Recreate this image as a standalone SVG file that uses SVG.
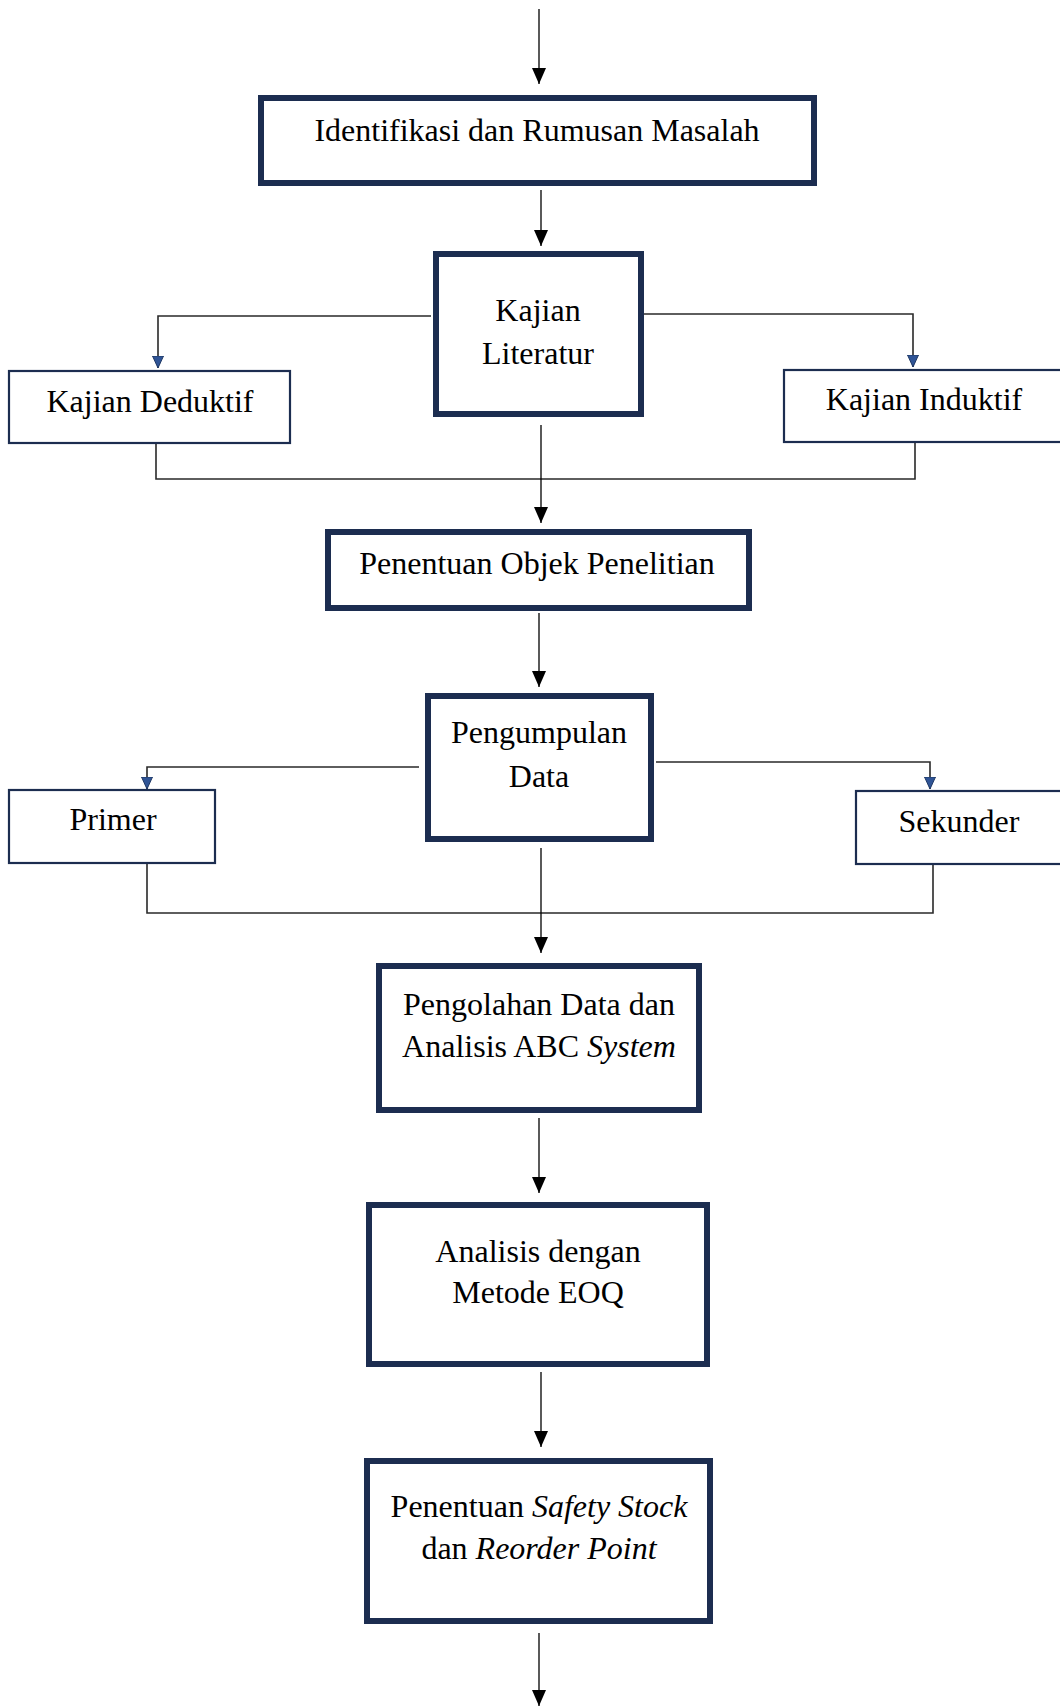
<svg xmlns="http://www.w3.org/2000/svg" width="1060" height="1706" viewBox="0 0 1060 1706">
<defs>
<style>
.box{fill:#fff;stroke:#1c2d50;stroke-width:6}
.sbox{fill:#fff;stroke:#1c2d50;stroke-width:2.2}
.t{font-family:"Liberation Serif","Times New Roman",serif;font-size:32px;fill:#000;text-anchor:middle}
.i{font-style:italic}
.c{fill:none;stroke:#000;stroke-width:1.3}
.b{fill:none;stroke:#2a2a2a;stroke-width:1.6}
</style>
<marker id="ah" markerUnits="userSpaceOnUse" viewBox="0 0 16 14" markerWidth="16" markerHeight="14" refX="16" refY="7" orient="auto">
<path d="M0,0 L16,7 L0,14 z" fill="#000"/>
</marker>
<marker id="bh" markerUnits="userSpaceOnUse" viewBox="0 0 13 12" markerWidth="13" markerHeight="12" refX="12.5" refY="6" orient="auto">
<path d="M0.5,0.5 L12.5,6 L0.5,11.5 z" fill="#2f5496" stroke="#1f3864" stroke-width="1"/>
</marker>
</defs>
<rect width="1060" height="1706" fill="#fff"/>
<g id="connectors">
<path class="c" d="M539,9 V84" marker-end="url(#ah)"/>
<path class="c" d="M541,190 V246" marker-end="url(#ah)"/>
<path class="b" d="M431,316 H158 V368" marker-end="url(#bh)"/>
<path class="b" d="M641,314 H913 V367" marker-end="url(#bh)"/>
<path class="b" d="M156,444 V479 H915 V443"/>
<path class="c" d="M541,425 V523" marker-end="url(#ah)"/>
<path class="c" d="M539,613 V687" marker-end="url(#ah)"/>
<path class="b" d="M419,767 H147 V789" marker-end="url(#bh)"/>
<path class="b" d="M656,762 H930 V789" marker-end="url(#bh)"/>
<path class="b" d="M147,864 V913 H933 V865"/>
<path class="c" d="M541,848 V953" marker-end="url(#ah)"/>
<path class="c" d="M539,1118 V1193" marker-end="url(#ah)"/>
<path class="c" d="M541,1372 V1447" marker-end="url(#ah)"/>
<path class="c" d="M539,1633 V1706" marker-end="url(#ah)"/>
</g>
<g id="identifikasi">
<rect class="box" x="261" y="98" width="553" height="85"/>
<text class="t" x="537" y="141">Identifikasi dan Rumusan Masalah</text>
</g>
<g id="kajian-literatur">
<rect class="box" x="436" y="254" width="205" height="160"/>
<text class="t" x="538" y="321">Kajian</text>
<text class="t" x="538" y="364">Literatur</text>
</g>
<g id="kajian-deduktif">
<rect class="sbox" x="9" y="371" width="281" height="72"/>
<text class="t" x="150" y="412">Kajian Deduktif</text>
</g>
<g id="kajian-induktif">
<rect class="sbox" x="784" y="370" width="285" height="72"/>
<text class="t" x="924" y="410">Kajian Induktif</text>
</g>
<g id="penentuan-objek">
<rect class="box" x="328" y="532" width="421" height="76"/>
<text class="t" x="537" y="574">Penentuan Objek Penelitian</text>
</g>
<g id="pengumpulan-data">
<rect class="box" x="428" y="696" width="223" height="143"/>
<text class="t" x="539" y="743">Pengumpulan</text>
<text class="t" x="539" y="787">Data</text>
</g>
<g id="primer">
<rect class="sbox" x="9" y="790" width="206" height="73"/>
<text class="t" x="113" y="830">Primer</text>
</g>
<g id="sekunder">
<rect class="sbox" x="856" y="791" width="213" height="73"/>
<text class="t" x="959" y="832">Sekunder</text>
</g>
<g id="pengolahan-data">
<rect class="box" x="379" y="966" width="320" height="144"/>
<text class="t" x="539" y="1015">Pengolahan Data dan</text>
<text class="t" x="539" y="1057">Analisis ABC <tspan class="i">System</tspan></text>
</g>
<g id="analisis-eoq">
<rect class="box" x="369" y="1205" width="338" height="159"/>
<text class="t" x="538" y="1262">Analisis dengan</text>
<text class="t" x="538" y="1303">Metode EOQ</text>
</g>
<g id="safety-stock">
<rect class="box" x="367" y="1461" width="343" height="160"/>
<text class="t" x="539" y="1517">Penentuan <tspan class="i">Safety Stock</tspan></text>
<text class="t" x="539" y="1559">dan <tspan class="i">Reorder Point</tspan></text>
</g>
</svg>
